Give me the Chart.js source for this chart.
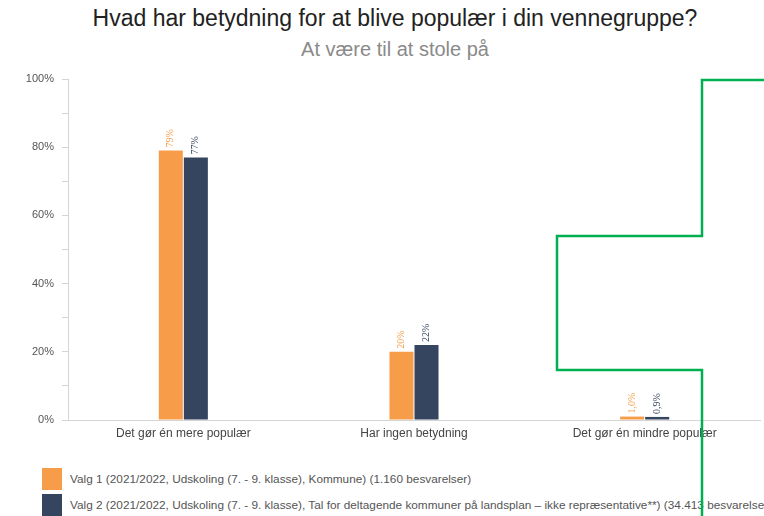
<html>
  <head>
    <script src="https://cdn.jsdelivr.net/npm/chart.js@4/dist/chart.umd.min.js"></script>
    <style>
      body {
        margin:0;
        background:#fff;
        font-family:"Liberation Sans", Arial, sans-serif;
        width:764px;
        height:516px;
        overflow:hidden;
        position:relative;
      }
      #title {
        position:absolute;
        top:5px;
        left:0;
        width:790px;
        text-align:center;
        font-size:23px;
        color:#222;
      }
      #subtitle {
        position:absolute;
        top:38px;
        left:0;
        width:790px;
        text-align:center;
        font-size:20px;
        color:#8a8a8a;
      }
      #chartCtn {
        position:absolute;
        top:60px;
        left:0;
        width:764px;
        height:390px;
      }
      #legend {
        position:absolute;
        top:468px;
        left:42px;
        white-space:nowrap;
      }
      .item {
        height:22px;
        margin-bottom:4px;
        display:flex;
        align-items:center;
        font-size:10px;
        color:#555;
      }
      .item span {
        display:inline-block;
        transform:scaleX(1.18);
        transform-origin:left center;
      }
      .box {
        width:20px;
        height:22px;
        margin-right:8px;
        flex:none;
      }
      #marker {
        position:absolute;
        top:0;
        left:0;
      }
    </style>
    <title>Populær</title>
  </head>
  <body>
    <div id="title">Hvad har betydning for at blive populær i din vennegruppe?</div>
    <div id="subtitle">At være til at stole på</div>
    <div id="chartCtn">
      <canvas id="canvas"></canvas>
    </div>
    <div id="legend"></div>
    <svg id="marker" width="764" height="516">
      <polyline points="765,80 702,80 702,236 557,236 557,370 702,370 702,517"
        fill="none" stroke="#00b050" stroke-width="2.5"/>
    </svg>

    <script type="text/javascript">
      var categories = ["Det gør én mere populær", "Har ingen betydning", "Det gør én mindre populær"];
      var seriesNames = [
        "Valg 1 (2021/2022, Udskoling (7. - 9. klasse), Kommune) (1.160 besvarelser)",
        "Valg 2 (2021/2022, Udskoling (7. - 9. klasse), Tal for deltagende kommuner på landsplan – ikke repræsentative**) (34.413 besvarelser)"
      ];
      var valg1 = [79, 20, 1.0];
      var valg2 = [77, 22, 0.9];
      var valg1Labels = ["79%", "20%", "1,0%"];
      var valg2Labels = ["77%", "22%", "0,9%"];
      var colors = ["#f79d4a", "#36455f"];

      var valueLabels = {
        id: "valueLabels",
        afterDatasetsDraw: function(chart){
          var ctx = chart.ctx;
          var labels = [valg1Labels, valg2Labels];
          chart.data.datasets.forEach(function(ds, i){
            chart.getDatasetMeta(i).data.forEach(function(bar, j){
              ctx.save();
              ctx.translate(bar.x, bar.y - 3);
              ctx.rotate(-Math.PI / 2);
              ctx.font = "10px 'Liberation Serif', serif";
              ctx.fillStyle = colors[i];
              ctx.textAlign = "left";
              ctx.textBaseline = "middle";
              ctx.fillText(labels[i][j], 0, 0);
              ctx.restore();
            });
          });
        }
      };

      var legend = document.getElementById("legend");
      seriesNames.forEach(function(name, i){
        var item = document.createElement("div");
        item.className = "item";
        item.innerHTML = '<div class="box" style="background:' + colors[i] + '"></div><span>' + name + '</span>';
        legend.appendChild(item);
      });

      var chart = new Chart(document.getElementById("canvas"), {
        type: "bar",
        data: {
          labels: categories,
          datasets: [
            { label: seriesNames[0], data: valg1, backgroundColor: colors[0] },
            { label: seriesNames[1], data: valg2, backgroundColor: colors[1] }
          ]
        },
        options: {
          responsive: true,
          maintainAspectRatio: false,
          animation: false,
          layout: { padding: { top: 19, right: 4, left: 0, bottom: 0 } },
          datasets: { bar: { categoryPercentage: 0.217, barPercentage: 0.96 } },
          plugins: {
            legend: { display: false },
            tooltip: { enabled: false }
          },
          scales: {
            x: {
              grid: { display: false, drawTicks: false },
              border: { color: "#d4d4d4", width: 1 },
              ticks: { color: "#444", font: { size: 12 }, padding: 6, maxRotation: 0 },
              afterFit: function(scale){ scale.height = 30; }
            },
            y: {
              min: 0,
              max: 100,
              grid: { drawOnChartArea: false, tickLength: 6, color: "#d4d4d4" },
              border: { color: "#d4d4d4", width: 1 },
              ticks: {
                stepSize: 10,
                color: "#555",
                font: { size: 11 },
                padding: 8,
                callback: function(v){ return v % 20 === 0 ? v + "%" : ""; }
              },
              afterFit: function(scale){ scale.width = 68; }
            }
          }
        },
        plugins: [valueLabels]
      });
    </script>
  </body>
</html>
